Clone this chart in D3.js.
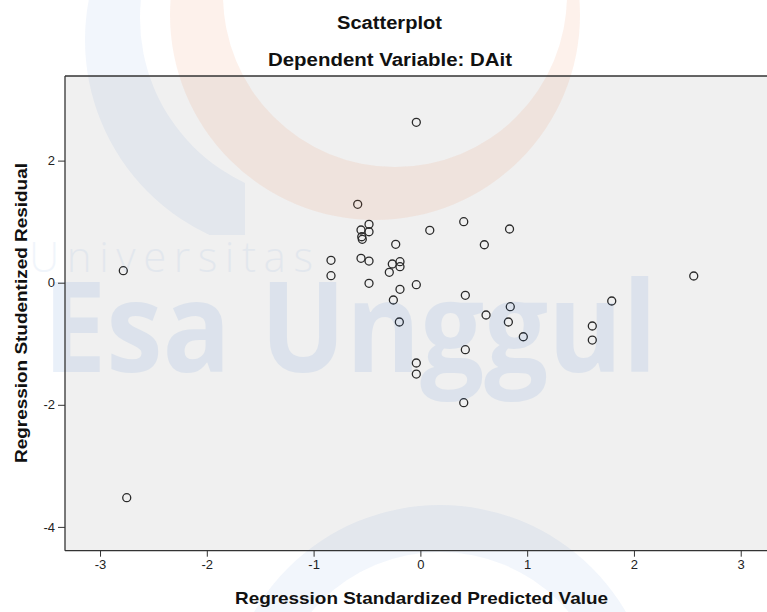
<!DOCTYPE html>
<html>
<head>
<meta charset="utf-8">
<script src="https://cdn.jsdelivr.net/npm/d3@7"></script>
<style>
  body { margin: 0; background: #fff; }
  svg { display: block; }
  .axis text { font-family: "Liberation Sans", Arial, sans-serif; font-size: 13px; fill: #222; stroke: none; }
  .axis line { stroke: #333; }
</style>
</head>
<body>
<svg width="767" height="612"></svg>
<script>
// Regression Standardized Predicted Value (x) and Regression Studentized Residual (y)
var predicted = [-0.038, -0.587, -0.481, -0.556, -0.481, -0.549, -0.544, -0.231, 0.088, 0.406,
                 0.599, 0.835, -0.837, -0.556, -0.481, -0.263, -0.191, -0.191, -0.291, -0.837,
                 -0.481, -0.191, -0.038, -0.253, 0.421, -0.197, 0.615, 0.842, 0.824, 0.964,
                 0.421, -0.038, -0.038, 0.406, 1.610, 1.610, 1.792, 2.560, -2.782, -2.750];
var residual = [2.627, 1.284, 0.957, 0.863, 0.835, 0.753, 0.711, 0.629, 0.858, 0.999,
                0.622, 0.880, 0.367, 0.400, 0.355, 0.306, 0.344, 0.262, 0.170, 0.115,
                -0.010, -0.108, -0.033, -0.283, -0.206, -0.644, -0.529, -0.393, -0.644, -0.885,
                -1.097, -1.315, -1.496, -1.966, -0.709, -0.939, -0.300, 0.110, 0.197, -3.522];
var xTicks = [-3, -2, -1, 0, 1, 2, 3];
var yTicks = [-4, -2, 0, 2];

var svg = d3.select("svg"),
    margin = { top: 76, right: 0, bottom: 61.3, left: 65 },
    width = +svg.attr("width") - margin.left - margin.right,
    height = +svg.attr("height") - margin.top - margin.bottom;

var x = d3.scaleLinear().domain([-3.328, 3.246]).range([0, width]);
var y = d3.scaleLinear().domain([-4.39, 3.386]).range([height, 0]);

var g = svg.append("g").attr("transform", "translate(" + margin.left + "," + margin.top + ")");

// plot background
g.append("rect")
    .attr("width", width)
    .attr("height", height)
    .attr("fill", "#f0f0f0");

// watermark (logo + text), see-through over the background
var wm = svg.append("g").attr("pointer-events", "none");
var defs = svg.append("defs");
defs.append("clipPath").attr("id", "leftClip")
  .append("rect").attr("x", 0).attr("y", 0).attr("width", 245).attr("height", 235);

function ring(cx1, cy1, r1, cx2, cy2, r2) {
    var p = d3.path();
    p.moveTo(cx1 + r1, cy1); p.arc(cx1, cy1, r1, 0, 2 * Math.PI);
    p.moveTo(cx2 + r2, cy2); p.arc(cx2, cy2, r2, 0, 2 * Math.PI);
    return p.toString();
}

wm.append("path")
    .attr("d", ring(300, 40, 215, 322, 18, 182))
    .attr("fill-rule", "evenodd")
    .attr("clip-path", "url(#leftClip)")
    .attr("fill", "#1e64c8")
    .attr("opacity", 0.06);

wm.append("path")
    .attr("d", ring(375, 15, 205, 395, -5, 172))
    .attr("fill-rule", "evenodd")
    .attr("fill", "#e8773a")
    .attr("opacity", 0.1);

wm.append("path")
    .attr("d", ring(440, 720, 215, 440, 720, 168))
    .attr("fill-rule", "evenodd")
    .attr("fill", "#1e64c8")
    .attr("opacity", 0.06);

wm.append("text")
    .attr("x", 29)
    .attr("y", 272)
    .attr("textLength", 284)
    .attr("lengthAdjust", "spacing")
    .attr("font-family", "'Open Sans', sans-serif")
    .attr("font-weight", 300)
    .attr("font-size", 42)
    .attr("fill", "#1e64c8")
    .attr("opacity", 0.06)
    .text("Universitas");

wm.append("text")
    .attr("x", 43)
    .attr("y", 372)
    .attr("textLength", 614)
    .attr("lengthAdjust", "spacingAndGlyphs")
    .attr("font-family", "'Open Sans', sans-serif")
    .attr("font-weight", 700)
    .attr("font-size", 125)
    .attr("fill", "#1e64c8")
    .attr("opacity", 0.09)
    .text("Esa Unggul");

// frame: top, left, bottom
var frame = svg.append("g").attr("transform", "translate(" + margin.left + "," + margin.top + ")");
frame.append("line").attr("x1", 0).attr("x2", width).attr("y1", 0).attr("y2", 0);
frame.append("line").attr("x1", 0).attr("x2", 0).attr("y1", 0).attr("y2", height);
frame.append("line").attr("x1", 0).attr("x2", width).attr("y1", height).attr("y2", height);
frame.selectAll("line").attr("stroke", "#333").attr("stroke-width", 1.3);

var fmt = function (d) { return String(d); };

var gx = frame.append("g")
    .attr("class", "axis")
    .attr("transform", "translate(0," + height + ")")
    .call(d3.axisBottom(x).tickValues(xTicks).tickSize(6).tickPadding(3).tickFormat(fmt));
gx.select(".domain").remove();

var gy = frame.append("g")
    .attr("class", "axis")
    .call(d3.axisLeft(y).tickValues(yTicks).tickSize(7).tickPadding(3).tickFormat(fmt));
gy.select(".domain").remove();
svg.selectAll(".axis text").attr("font-family", null).attr("font-size", null);

// points
var pts = predicted.map(function (d, i) { return { x: d, y: residual[i] }; });
g.append("g")
  .selectAll("circle")
  .data(pts)
  .enter().append("circle")
    .attr("cx", function (d) { return x(d.x); })
    .attr("cy", function (d) { return y(d.y); })
    .attr("r", 4)
    .attr("fill", "none")
    .attr("stroke", "#2a2a2a")
    .attr("stroke-width", 1.3);

// titles
var font = "'Liberation Sans', Arial, sans-serif";
svg.append("text")
    .attr("x", 389.5).attr("y", 28.5)
    .attr("text-anchor", "middle")
    .attr("font-family", font).attr("font-weight", "bold").attr("font-size", 18)
    .attr("textLength", 105).attr("lengthAdjust", "spacingAndGlyphs")
    .attr("fill", "#111")
    .text("Scatterplot");

svg.append("text")
    .attr("x", 390).attr("y", 65.5)
    .attr("text-anchor", "middle")
    .attr("font-family", font).attr("font-weight", "bold").attr("font-size", 18)
    .attr("textLength", 244).attr("lengthAdjust", "spacingAndGlyphs")
    .attr("fill", "#111")
    .text("Dependent Variable: DAit");

svg.append("text")
    .attr("x", 421.5).attr("y", 604)
    .attr("text-anchor", "middle")
    .attr("font-family", font).attr("font-weight", "bold").attr("font-size", 17)
    .attr("textLength", 373).attr("lengthAdjust", "spacingAndGlyphs")
    .attr("fill", "#111")
    .text("Regression Standardized Predicted Value");

svg.append("text")
    .attr("transform", "translate(26.5,313) rotate(-90)")
    .attr("text-anchor", "middle")
    .attr("font-family", font).attr("font-weight", "bold").attr("font-size", 17)
    .attr("textLength", 300).attr("lengthAdjust", "spacingAndGlyphs")
    .attr("fill", "#111")
    .text("Regression Studentized Residual");
</script>
</body>
</html>
